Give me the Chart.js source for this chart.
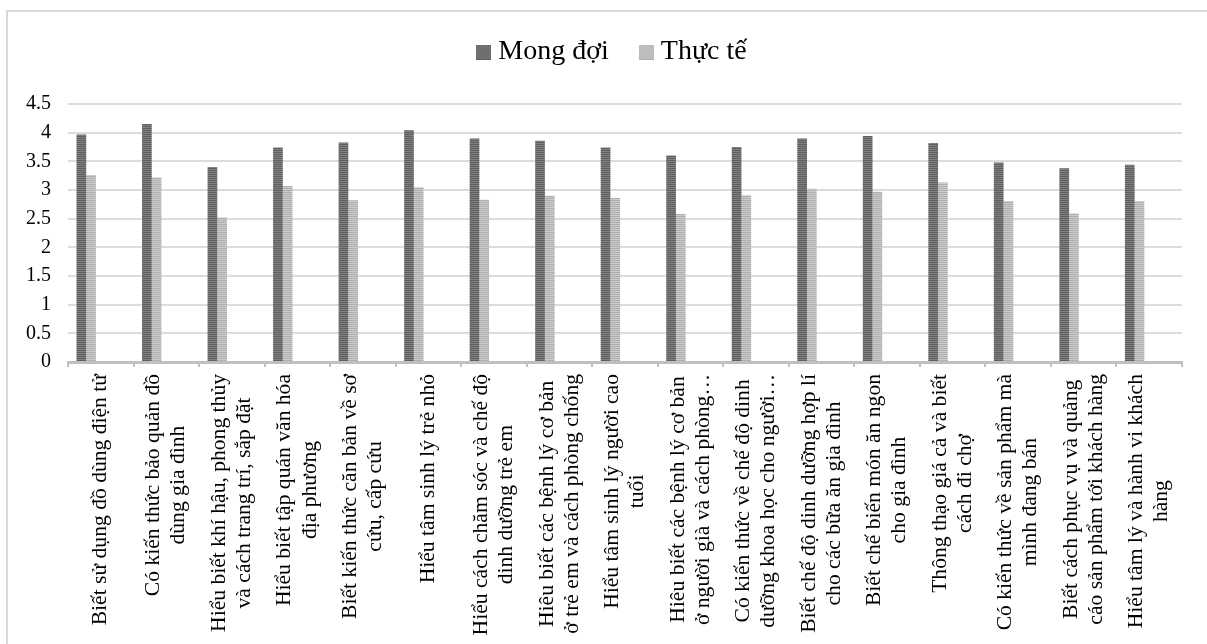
<!DOCTYPE html>
<html>
<head>
<meta charset="utf-8">
<script src="https://cdn.jsdelivr.net/npm/chart.js@4.4.1/dist/chart.umd.min.js"></script>
<style>
  html, body { margin: 0; padding: 0; background: #fff; }
  #wrap { width: 1207px; height: 644px; position: relative; }
</style>
</head>
<body>
<div id="wrap"><canvas id="c" width="1207" height="644"></canvas></div>
<script>
// Skill categories (wrapped lines of each axis label)
const categories = [
  ["Biết sử dụng đồ dùng điện tử"],
  ["Có kiến thức bảo quản đồ", "dùng gia đình"],
  ["Hiểu biết khí hậu, phong thủy", "và cách trang trí, sắp đặt"],
  ["Hiểu biết tập quán văn hóa", "địa phương"],
  ["Biết kiến thức căn bản về sơ", "cứu, cấp cứu"],
  ["Hiểu tâm sinh lý trẻ nhỏ"],
  ["Hiểu cách chăm sóc và chế độ", "dinh dưỡng trẻ em"],
  ["Hiêu biết các bệnh lý cơ bản", "ở trẻ em và cách phòng chống"],
  ["Hiểu tâm sinh lý người cao", "tuổi"],
  ["Hiêu biết các bệnh lý cơ bản", "ở người già và cách phòng…"],
  ["Có kiến thức về chế độ dinh", "dưỡng khoa học cho người…"],
  ["Biết chế độ dinh dưỡng hợp lí", "cho các bữa ăn gia đình"],
  ["Biết chế biến món ăn ngon", "cho gia đình"],
  ["Thông thạo giá cả và biết", "cách đi chợ"],
  ["Có kiến thức về sản phẩm mà", "mình đang bán"],
  ["Biết cách phục vụ và quảng", "cáo sản phẩm tới khách hàng"],
  ["Hiểu tâm lý và hành vi khách", "hàng"]
];

const seriesNames = ["Mong đợi", "Thực tế"];

// Mean scores per category
const expectedScores = [3.97, 4.15, 3.40, 3.74, 3.83, 4.04, 3.90, 3.86, 3.74, 3.60, 3.75, 3.90, 3.94, 3.82, 3.48, 3.38, 3.44];
const actualScores   = [3.26, 3.22, 2.52, 3.07, 2.82, 3.05, 2.83, 2.90, 2.86, 2.58, 2.91, 3.02, 2.97, 3.13, 2.81, 2.59, 2.81];

const yTickValues = [0, 0.5, 1, 1.5, 2, 2.5, 3, 3.5, 4, 4.5];

// Horizontal-stripe fills for the two series
function stripeCanvas(w, h, base, stripe) {
  const c = document.createElement('canvas');
  c.width = w; c.height = h;
  const g = c.getContext('2d');
  for (let y = 0; y < h; y++) {
    g.fillStyle = (y % 2 === 0) ? base : stripe;
    g.fillRect(0, y, w, 1);
  }
  return c;
}
const darkTile = stripeCanvas(4, 2, '#5f5f5f', '#808080');
const lightTile = stripeCanvas(4, 2, '#afafaf', '#cbcbcb');
const ctx0 = document.getElementById('c').getContext('2d');
const darkFill = ctx0.createPattern(darkTile, 'repeat');
const lightFill = ctx0.createPattern(lightTile, 'repeat');
const legendIcons = [
  stripeCanvas(15, 15, '#5f5f5f', '#808080'),
  stripeCanvas(15, 15, '#afafaf', '#cbcbcb')
];

// White page with a light frame around the chart
const frame = {
  id: 'frame',
  beforeDraw(chart) {
    const ctx = chart.ctx;
    ctx.save();
    ctx.fillStyle = '#fff';
    ctx.fillRect(0, 0, chart.width, chart.height);
    ctx.strokeStyle = '#d9d9d9';
    ctx.lineWidth = 2;
    ctx.strokeRect(7, 11, 1400, 800);
    ctx.restore();
  }
};

// Extra room under the legend, and legend nudged right
const legendSpacing = {
  id: 'legendSpacing',
  beforeUpdate(chart) {
    const lg = chart.legend;
    if (lg && !lg._spaced) {
      const fit = lg.fit;
      lg.fit = function () { fit.call(this); this.height += 28; };
      lg._spaced = true;
    }
  },
  afterLayout(chart) {
    const lg = chart.legend;
    if (lg) { lg.left += 24; lg.right += 24; }
  }
};

// Center the wrapped lines of each rotated category label on its tick
const centerWrappedTicks = {
  id: 'centerWrappedTicks',
  beforeDraw(chart) {
    const scale = chart.scales.x;
    const items = scale.getLabelItems();
    if (items._centered) return;
    const ctx = chart.ctx;
    items.forEach(item => {
      const lines = Array.isArray(item.label) ? item.label : [item.label];
      ctx.save();
      ctx.font = item.font.string;
      const maxW = Math.max(...lines.map(l => ctx.measureText(l).width));
      ctx.restore();
      const lh = item.font.lineHeight;
      const t = item.options.translation;
      item.options.textAlign = 'center';
      item.options.translation = [t[0] - (lines.length - 1) * lh / 2, t[1] + maxW / 2];
    });
    items._centered = true;
  }
};

const serif = 'Liberation Serif';

new Chart(document.getElementById('c'), {
  type: 'bar',
  data: {
    labels: categories,
    datasets: [
      { label: seriesNames[0], data: expectedScores, backgroundColor: darkFill, borderWidth: 0 },
      { label: seriesNames[1], data: actualScores, backgroundColor: lightFill, borderWidth: 0 },
      { label: '', data: [] },
      { label: '', data: [] },
      { label: '', data: [] }
    ]
  },
  options: {
    responsive: false,
    animation: false,
    devicePixelRatio: 1,
    categoryPercentage: 0.74,
    barPercentage: 1,
    layout: { padding: { top: 1, right: 25, left: 0, bottom: 0 } },
    plugins: {
      tooltip: { enabled: false },
      legend: {
        position: 'top',
        labels: {
          font: { family: serif, size: 28 },
          color: '#000',
          usePointStyle: true,
          boxWidth: 1,
          padding: 37,
          generateLabels(chart) {
            const items = Chart.defaults.plugins.legend.labels.generateLabels(chart);
            items.forEach(it => { if (it.datasetIndex < 2) it.pointStyle = legendIcons[it.datasetIndex]; });
            return items;
          },
          filter: item => item.datasetIndex < 2
        }
      }
    },
    scales: {
      x: {
        grid: { display: true, drawOnChartArea: false, drawTicks: true, tickLength: 5, color: '#bfbfbf', lineWidth: 2, offset: true },
        border: { display: true, color: '#bfbfbf', width: 3 },
        ticks: {
          autoSkip: false, minRotation: 90, maxRotation: 90, padding: 7,
          font: { family: serif, size: 21.6, lineHeight: 1.16 }, color: '#000'
        },
        afterFit(s) { s.height = 282; }
      },
      y: {
        min: 0, max: 4.5,
        afterBuildTicks(s) { s.ticks = yTickValues.map(v => ({ value: v })); },
        ticks: { padding: 17, font: { family: serif, size: 20 }, color: '#000', callback: v => String(v) },
        grid: { color: '#dcdcdc', lineWidth: 2, drawTicks: false },
        border: { display: false },
        afterFit(s) { s.width = 68; }
      }
    }
  },
  plugins: [frame, legendSpacing, centerWrappedTicks]
});
</script>
</body>
</html>
